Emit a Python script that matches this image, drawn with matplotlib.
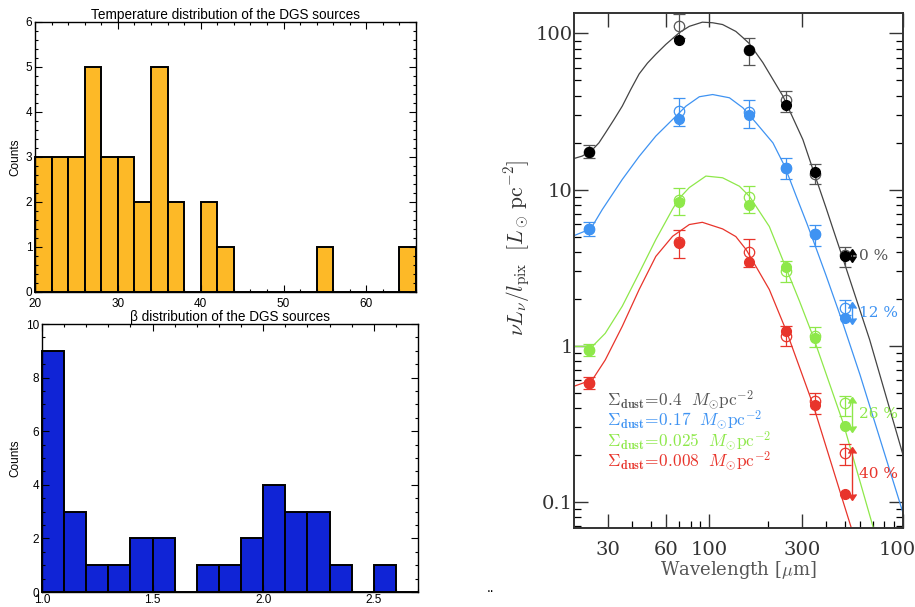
import numpy as np
import matplotlib
matplotlib.use('Agg')
import matplotlib.pyplot as plt
from matplotlib.ticker import MultipleLocator, FixedLocator, FuncFormatter, LogLocator, NullFormatter

# ---- histogram data
t_bins = [20, 22, 24, 26, 28, 30, 32, 34, 36, 38, 40, 42, 44, 46, 48, 50, 52, 54, 56, 58, 60, 62, 64]
t_counts = [3, 3, 3, 5, 3, 3, 2, 5, 2, 0, 2, 1, 0, 0, 0, 0, 0, 1, 0, 0, 0, 0, 1]
b_bins = [1.0, 1.1, 1.2, 1.3, 1.4, 1.5, 1.6, 1.7, 1.8, 1.9, 2.0, 2.1, 2.2, 2.3, 2.4, 2.5, 2.6]
b_counts = [9, 3, 1, 1, 2, 2, 0, 1, 1, 2, 4, 3, 3, 1, 0, 1, 0]

# ---- SED data (wavelength in micron)
lam = [24, 70, 160, 250, 350, 500]

blk_fill = [17.5, 91, 78, 35, 12.9, 3.78]
blk_open = [17.5, 111, 78, 37.4, 12.6, 3.8]
blk_lo = [16.0, 93, 62.6, 31.6, 10.8, 3.18]
blk_hi = [19.2, 133, 93.5, 42.7, 14.5, 4.27]

blu_fill = [5.62, 28.1, 30, 13.8, 5.17, 1.50]
blu_open = [5.62, 32, 31.5, 13.8, 5.17, 1.74]
blu_lo = [5.07, 25.4, 24.9, 11.7, 4.37, 1.58]
blu_hi = [6.18, 38.3, 37.2, 15.9, 5.94, 1.96]

grn_fill = [0.933, 8.34, 8.0, 3.19, 1.12, 0.308]
grn_open = [0.933, 8.6, 8.9, 3.0, 1.15, 0.43]
grn_lo = [0.86, 6.9, 7.1, 2.56, 0.98, 0.356]
grn_hi = [1.02, 10.3, 10.5, 3.47, 1.32, 0.478]

red_fill = [0.58, 4.53, 3.42, 1.25, 0.42, 0.112]
red_open = [0.58, 4.6, 4.0, 1.16, 0.44, 0.205]
red_lo = [0.53, 3.66, 3.2, 0.99, 0.367, 0.173]
red_hi = [0.627, 5.5, 4.8, 1.33, 0.497, 0.234]

# model curves
blk_mx = [20, 22.1, 24.9, 26.9, 29.1, 32.2, 35.5, 39.3, 43.4, 47.9, 52.9, 59.6, 69.9, 78.8, 92,
          104, 117, 137, 149, 161, 189, 240, 304, 343, 401, 435, 490, 673, 1000]
blk_my = [15.8, 16.4, 18.0, 19.9, 23.1, 28.1, 34.2, 43.8, 55, 64.5, 73.5, 85, 101, 111, 118,
          117, 114, 103, 94, 86, 65, 39.6, 20.9, 13.4, 7.6, 5.6, 3.6, 1.09, 0.2]
blu_mx = [20, 24.4, 28, 35.5, 43.4, 52.9, 64.6, 75.7, 88.8, 104, 127, 149, 174, 213, 245,
          281, 320, 350, 400, 481, 600, 1000]
blu_my = [5.07, 5.6, 7.45, 11.6, 16.3, 22, 28.1, 34.2, 39.3, 40.6, 38.7, 33.4, 26.8, 19.9, 14.1,
          9.06, 6.0, 4.45, 2.83, 1.48, 0.65, 0.085]
grn_mx = [20, 24.9, 29, 35.5, 43.4, 52.9, 64.6, 70, 78.8, 96, 117, 143, 161, 204, 250, 292,
          343, 491, 703]
grn_my = [0.99, 0.99, 1.2, 1.79, 2.92, 4.78, 7.5, 8.8, 10.3, 12.2, 11.9, 10.5, 9.06, 5.8, 3.1, 1.93,
          1.15, 0.32, 0.068]
red_mx = [20, 24.9, 29, 35.5, 43.4, 52.9, 64.6, 78.8, 92, 117, 137, 155, 174, 204, 250, 343,
          491, 541]
red_my = [0.55, 0.606, 0.81, 1.33, 2.29, 3.73, 5.02, 5.97, 6.17, 5.6, 5.0, 4.12, 3.22, 2.29, 1.24,
          0.42, 0.1, 0.068]

pct_labels = ['0 %', '12 %', '26 %', '40 %']
sig_labels = ['0.4', '0.17', '0.025', '0.008']

c_blk, c_blu, c_grn, c_red = '#000000', '#3f93f2', '#8ee84a', '#e8342b'

fig = plt.figure(figsize=(9.15, 6.07), dpi=100)

# ---------------- histograms
def hist_axes(rect, bins, counts, width, color, xlim, ylim, xmaj, xmin, ymaj, ymin, title, tpad, xpad):
    ax = fig.add_axes(rect)
    ax.bar(bins, counts, width=width, align='edge', color=color,
           edgecolor='black', linewidth=1.4, clip_on=False)
    ax.set_xlim(*xlim)
    ax.set_ylim(*ylim)
    ax.xaxis.set_major_locator(MultipleLocator(xmaj))
    ax.xaxis.set_minor_locator(MultipleLocator(xmin))
    ax.yaxis.set_major_locator(MultipleLocator(ymaj))
    ax.yaxis.set_minor_locator(MultipleLocator(ymin))
    ax.tick_params(which='both', direction='in', top=True, right=True, labelsize=8.5, pad=2)
    ax.tick_params(axis='x', which='major', pad=xpad)
    ax.tick_params(which='major', length=5, width=0.8)
    ax.tick_params(which='minor', length=2.5, width=0.8)
    for s in ax.spines.values():
        s.set_linewidth(1.0)
    ax.set_ylabel('Counts', fontsize=8.5, labelpad=3)
    ax.set_title(title, fontsize=9.8, pad=tpad)
    return ax

plt.rcParams['font.family'] = ['Liberation Sans', 'DejaVu Sans']

ax1 = hist_axes([0.0383, 0.519, 0.4164, 0.4448], t_bins, t_counts, 2, '#fdb927',
                (20, 66), (0, 6), 10, 2, 1, 0.2, 'Temperature distribution of the DGS sources', 2, 4)
ax2 = hist_axes([0.0459, 0.0247, 0.4109, 0.4415], b_bins, b_counts, 0.1, '#1024d6',
                (1.0, 2.7), (0, 10), 0.5, 0.1, 2, 0.5, 'β distribution of the DGS sources', 1, 1.5)
ax2.xaxis.set_major_formatter(FuncFormatter(lambda v, p: '%.1f' % v))

fig.text(0.5365, 0.024, '..', fontsize=10, ha='center')

# ---------------- SED panel
plt.rcParams['mathtext.fontset'] = 'cm'
ax = fig.add_axes([0.6273, 0.1301, 0.3596, 0.8484])
ax.set_xscale('log')
ax.set_yscale('log')
ax.set_xlim(20, 1000)
ax.set_ylim(0.068, 135)

series = [
    (c_blk, '#444444', blk_fill, blk_open, blk_lo, blk_hi, blk_mx, blk_my),
    (c_blu, c_blu, blu_fill, blu_open, blu_lo, blu_hi, blu_mx, blu_my),
    (c_grn, c_grn, grn_fill, grn_open, grn_lo, grn_hi, grn_mx, grn_my),
    (c_red, c_red, red_fill, red_open, red_lo, red_hi, red_mx, red_my),
]

for i, (col, lcol, yf, yo, lo, hi, mx, my) in enumerate(series):
    yo = np.array(yo)
    ax.plot(mx, my, color=lcol, lw=0.9, zorder=2)
    ecol = '#555555' if i == 0 else col
    ax.errorbar(lam, yo, yerr=[yo - np.array(lo), np.array(hi) - yo], fmt='none',
                ecolor=ecol, elinewidth=0.9, capsize=4, capthick=0.9, zorder=3)
    ax.plot(lam, yo, 'o', mfc='none', mec=ecol, mew=0.9, ms=7.5, zorder=4)
    ax.plot(lam, yf, 'o', color=col, ms=7, zorder=5)
    # arrow at 500 micron showing the change
    ax.plot([548, 548], [yf[-1], yo[-1]], color=col, lw=1.0, zorder=3)
    ax.plot([548], [yo[-1]], marker=10, color=col, ms=5.5, zorder=5)
    ax.plot([548], [yf[-1]], marker=11, color=col, ms=5.5, zorder=5)
    tcol = '#555555' if i == 0 else col
    ax.text(590, np.sqrt(yf[-1] * yo[-1]) if i > 0 else yf[-1], pct_labels[i], color=tcol,
            fontsize=11, family='DejaVu Serif', va='center', ha='left')
    ax.text(0.1, 0.2485 - 0.0399 * i,
            r'$\Sigma_{\mathbf{dust}}\!=\!%s\ \ M_{\odot}\mathrm{pc}^{-2}$' % sig_labels[i],
            transform=ax.transAxes, color=tcol, fontsize=12.5, va='center', ha='left')

ax.xaxis.set_major_locator(FixedLocator([30, 60, 100, 300, 1000]))
ax.xaxis.set_minor_locator(FixedLocator([40, 50, 70, 80, 90, 200, 400, 500, 600, 700, 800, 900]))
ax.xaxis.set_major_formatter(FuncFormatter(lambda v, p: '%g' % v))
ax.xaxis.set_minor_formatter(NullFormatter())
ax.yaxis.set_major_locator(LogLocator(base=10))
ax.yaxis.set_minor_locator(LogLocator(base=10, subs=np.arange(2, 10)))
ax.yaxis.set_major_formatter(FuncFormatter(lambda v, p: '%g' % v))
ax.yaxis.set_minor_formatter(NullFormatter())
ax.tick_params(which='major', direction='in', top=True, right=True, length=10, width=1.0,
               labelsize=14, colors='#333333')
ax.tick_params(which='minor', direction='in', top=False, right=True, length=5, width=0.9)
ax.tick_params(axis='x', which='major', pad=9)
ax.tick_params(axis='y', which='major', pad=1)
for lab in ax.get_xticklabels() + ax.get_yticklabels():
    lab.set_family('DejaVu Serif')
for s in ax.spines.values():
    s.set_linewidth(1.4)
    s.set_color('#333333')

ax.set_xlabel(r'Wavelength [$\mu$m]', fontsize=13, family='DejaVu Serif', color='#555555', labelpad=0)
fig.text(0.566, 0.591, r'$\nu L_\nu/l_{\rm pix}\ \ [L_\odot\,{\rm pc}^{-2}]$', rotation=90,
         fontsize=15.5, ha='center', va='center', color='#333333')

fig.savefig('out.png', dpi=100)
